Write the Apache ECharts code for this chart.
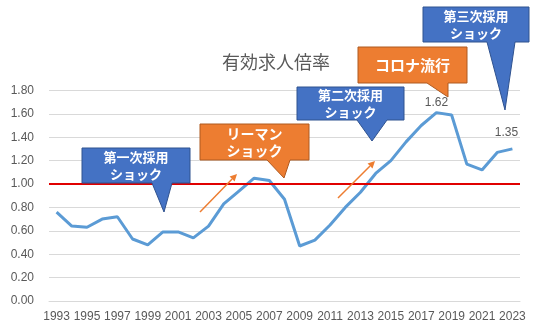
<!DOCTYPE html>
<html><head><meta charset="utf-8">
<script src="https://cdn.jsdelivr.net/npm/echarts@6/dist/echarts.min.js"></script>
<style>html,body{margin:0;padding:0;background:#fff;}#c{width:536px;height:330px;}</style>
</head><body><div id="c"></div>
<script>
const years = ['1993','1994','1995','1996','1997','1998','1999','2000','2001','2002','2003','2004','2005','2006','2007','2008','2009','2010','2011','2012','2013','2014','2015','2016','2017','2018','2019','2020','2021','2022','2023'];
const ratio = [0.76,0.64,0.63,0.70,0.72,0.53,0.48,0.59,0.59,0.54,0.64,0.83,0.94,1.05,1.03,0.87,0.47,0.52,0.65,0.80,0.93,1.09,1.20,1.36,1.50,1.61,1.59,1.17,1.12,1.27,1.30];
const pointLabels = {'2018':'1.62','2023':'1.35'};
const yTicks = {min:0, max:1.8, interval:0.2};
const baseline = 1.0;
const titleText = '有効求人倍率';
const callouts = [
  {text:'第一次採用\nショック', color:'#4472C4', stroke:'#2F528F', box:[82,148,190,183], tail:[152,172], tip:[164,212], fs:13},
  {text:'リーマン\nショック', color:'#ED7D31', stroke:'#AE5A21', box:[200,124,309,160], tail:[267,290], tip:[284,178], fs:14},
  {text:'第二次採用\nショック', color:'#4472C4', stroke:'#2F528F', box:[297,87,404,120], tail:[357,387], tip:[372,141], fs:13},
  {text:'コロナ流行', color:'#ED7D31', stroke:'#AE5A21', box:[358,47,467,83], tail:[427,448], tip:[448,97], fs:15},
  {text:'第三次採用\nショック', color:'#4472C4', stroke:'#2F528F', box:[423,7,529,42], tail:[487,515], tip:[505,110], fs:13}
];
const arrows = [[200,212,237,174],[338,198,375,161]];

const graphics = [];
callouts.forEach(c => {
  const [x1,y1,x2,y2] = c.box;
  graphics.push({type:'polygon', shape:{points:[[x1,y1],[x2,y1],[x2,y2],[c.tail[1],y2],c.tip,[c.tail[0],y2],[x1,y2]]},
    style:{fill:c.color, stroke:c.stroke, lineWidth:1}, z:10});
  graphics.push({type:'text', x:(x1+x2)/2, y:(y1+y2)/2, z:11,
    style:{text:c.text, fill:'#fff', font:'bold '+c.fs+'px "Noto Sans CJK JP"', align:'center', verticalAlign:'middle', lineHeight:17}});
});
arrows.forEach(a => {
  const [x1,y1,x2,y2] = a;
  const ang = Math.atan2(y2-y1, x2-x1), L=7, W=3.5;
  const bx = x2 - L*Math.cos(ang), by = y2 - L*Math.sin(ang);
  graphics.push({type:'line', shape:{x1:x1,y1:y1,x2:bx,y2:by}, style:{stroke:'#ED7D31', lineWidth:1.5}, z:10});
  graphics.push({type:'polygon', shape:{points:[[x2,y2],[bx - W*Math.sin(ang), by + W*Math.cos(ang)],[bx + W*Math.sin(ang), by - W*Math.cos(ang)]]}, style:{fill:'#ED7D31'}, z:10});
});

const seriesData = ratio.map((v,i) => {
  const t = pointLabels[years[i]];
  if (!t) return v;
  const last = years[i]==='2023';
  return {value:v, label:{show:true, formatter:t, position:'top', distance: last?10:4, offset: last?[-6,0]:[0,0], color:'#595959', fontSize:12, fontFamily:'Liberation Sans'}};
});

const chart = echarts.init(document.getElementById('c'));
chart.setOption({
  animation:false,
  title:{text:titleText, left:271, top:48, textAlign:'center', textStyle:{color:'#595959', fontSize:18, fontWeight:'normal', fontFamily:'Noto Sans CJK JP'}},
  grid:{left:49, right:16, top:90.4, bottom:29},
  xAxis:{type:'category', data:years, boundaryGap:true,
    axisLine:{lineStyle:{color:'#D9D9D9', width:1}}, axisTick:{show:false},
    axisLabel:{interval:1, color:'#595959', fontSize:12, fontFamily:'Liberation Sans', margin:10}},
  yAxis:{type:'value', min:yTicks.min, max:yTicks.max, interval:yTicks.interval,
    axisLabel:{formatter:v=>v.toFixed(2), color:'#595959', fontSize:12, fontFamily:'Liberation Sans', margin:15},
    splitLine:{lineStyle:{color:'#D9D9D9', width:1}}, axisLine:{show:false}, axisTick:{show:false}},
  series:[{type:'line', data:seriesData, symbol:'circle', symbolSize:0, showSymbol:true, smooth:false,
    lineStyle:{color:'#5B9BD5', width:3}, itemStyle:{color:'#5B9BD5'},
    markLine:{silent:true, symbol:['none','none'], label:{show:false}, lineStyle:{color:'#E00000', width:2, type:'solid'}, data:[{yAxis:baseline}]}}],
  graphic:graphics
});
</script></body></html>
